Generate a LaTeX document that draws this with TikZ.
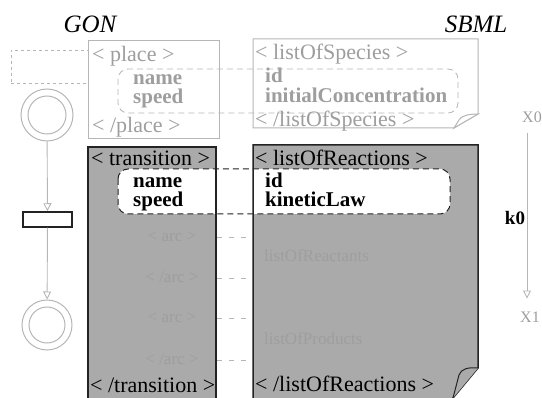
\documentclass[tikz,border=0pt]{standalone}
\usepackage{fontspec}
\setmainfont{Liberation Serif}
\usetikzlibrary{arrows.meta}
\definecolor{pale}{RGB}{182,182,182}
\definecolor{paletext}{RGB}{158,158,158}
\definecolor{shade}{RGB}{170,170,170}
\definecolor{ghost}{RGB}{158,158,158}
\definecolor{ink}{RGB}{35,35,35}
\begin{document}
\begin{tikzpicture}[x=1pt,y=-1pt,
  txt/.style={anchor=base west, inner sep=0pt, font=\fontsize{22}{19}\selectfont},
  fieldtxt/.style={anchor=base west, inner sep=0pt, font=\fontsize{21}{19}\bfseries},
  lighttxt/.style={txt, text=paletext},
  darktxt/.style={txt, text=black},
  ghosttxt/.style={txt, text=ghost, font=\fontsize{17}{17}\selectfont},
  title/.style={anchor=base, inner sep=0pt, font=\fontsize{25}{25}\itshape},
  lightbox/.style={draw=pale, line width=1pt, fill=white},
  field/.style={dashed, dash pattern=on 6pt off 4pt, rounded corners=10pt},
  link/.style={draw=pale, line width=0.8pt, dash pattern=on 5pt off 7pt},
  ring/.style={circle, draw=pale, line width=1pt, inner sep=0pt},
  arc/.style={draw=pale, line width=0.9pt, -{Triangle[open,length=8pt,width=8pt]}},
]
\useasboundingbox (0,0) rectangle (542,398);

% headings
\node[title] (gon) at (90,33) {GON};
\node[title] (sbml) at (476,33) {SBML};

% ---------- place / listOfSpecies row ----------
\node[draw=pale, dashed, line width=0.8pt, minimum width=77pt, minimum height=33pt, inner sep=0pt]
  (placeicon) at (49.5,66.5) {};
\node[lightbox, anchor=north west, minimum width=131pt, minimum height=98pt, inner sep=0pt]
  (placebox) at (88,40) {};
\path[lightbox] (253,39) -- (478,39) -- (478,114) -- (454,128) -- (253,128) -- cycle;
\draw[draw=pale, line width=1pt, fill=white]
  (454,128) -- (459,120) .. controls (461,116) and (468,114) .. (478,114) -- cycle;
\draw[field, draw=pale, line width=0.8pt] (118,69) rectangle (458,113);

\node[lighttxt] (placeopen) at (92,62) {< place >};
\node[fieldtxt, text=paletext] (pname) at (133,85) {name};
\node[fieldtxt, text=paletext] (pspeed) at (133,104) {speed};
\node[lighttxt] (placeclose) at (92,133) {< /place >};
\node[lighttxt] (specopen) at (255,60) {< listOfSpecies >};
\node[fieldtxt, text=paletext] (sid) at (265,83) {id};
\node[fieldtxt, text=paletext] (sconc) at (265,103) {initialConcentration};
\node[lighttxt] (specclose) at (255,127) {< /listOfSpecies >};

% ---------- transition / listOfReactions row ----------
\coordinate (la1) at (217,237); \coordinate (ra1) at (253,237);
\coordinate (la2) at (217,278); \coordinate (ra2) at (253,278);
\coordinate (la3) at (217,318); \coordinate (ra3) at (253,318);
\coordinate (la4) at (217,360); \coordinate (ra4) at (253,360);
\foreach \i in {1,...,4} { \draw[link] (la\i) -- (ra\i); }

\path[fill=shade] (88,147) rectangle (216,404);
\path[fill=shade] (253,145) -- (478,145) -- (478,368) -- (451,401) -- (451,404) -- (253,404) -- cycle;

% faint contents of the shaded boxes
\node[ghosttxt, anchor=base] (g1) at (172,242) {< arc >};
\node[ghosttxt, anchor=base] (g2) at (172,283) {< /arc >};
\node[ghosttxt, anchor=base] (g3) at (172,323) {< arc >};
\node[ghosttxt, anchor=base] (g4) at (172,365) {< /arc >};
\node[ghosttxt] (g5) at (264,262) {listOfReactants};
\node[ghosttxt] (g6) at (264,345) {listOfProducts};

\draw[field, draw=ink, line width=1pt, fill=white] (118,169) rectangle (450,214);

\draw[ink, line width=1.5pt] (88,404) -- (88,147) -- (216,147) -- (216,404);
\draw[ink, line width=1.5pt] (253,404) -- (253,145) -- (478,145) -- (478,368) -- (453,398) -- (453,404);
\draw[ink, line width=1pt, fill=shade]
  (453,398) -- (459,375) .. controls (461,369) and (468,367) .. (478,368);

\node[darktxt] (transopen) at (91,166) {< transition >};
\node[fieldtxt] (tname) at (133,188) {name};
\node[fieldtxt] (tspeed) at (133,207) {speed};
\node[darktxt] (transclose) at (90,393) {< /transition >};
\node[darktxt] (reacopen) at (255,166) {< listOfReactions >};
\node[fieldtxt] (rid) at (265,188) {id};
\node[fieldtxt] (rlaw) at (265,207) {kineticLaw};
\node[darktxt] (reacclose) at (255,392) {< /listOfReactions >};

% ---------- Petri net fragment ----------
\node[ring, minimum size=52pt] (p0) at (47,115) {};
\node[ring, minimum size=38pt] (p0in) at (p0) {};
\node[draw=ink, line width=1.5pt, fill=white, minimum width=49pt, minimum height=15pt, inner sep=0pt]
  (t0) at (47.5,219.5) {};
\node[ring, minimum size=50pt] (p1) at (47,325) {};
\node[ring, minimum size=36pt] (p1in) at (p1) {};
\draw[arc] (p0) -- (t0);
\draw[arc] (t0) -- (p1);

% ---------- reaction X0 -> X1 ----------
\node[anchor=center, inner sep=1pt, text=paletext, font=\fontsize{16}{16}\selectfont] (x0) at (532,117) {X0};
\node[anchor=center, inner sep=1pt, text=paletext, font=\fontsize{16}{16}\selectfont] (x1) at (530,317) {X1};
\node[anchor=center, inner sep=0pt, font=\fontsize{19}{19}\bfseries] (k0) at (515,218) {k0};
\draw[arc] ([xshift=-5pt,yshift=-9pt]x0.south) -- ([xshift=-3pt,yshift=12pt]x1.north);
\end{tikzpicture}
\end{document}
